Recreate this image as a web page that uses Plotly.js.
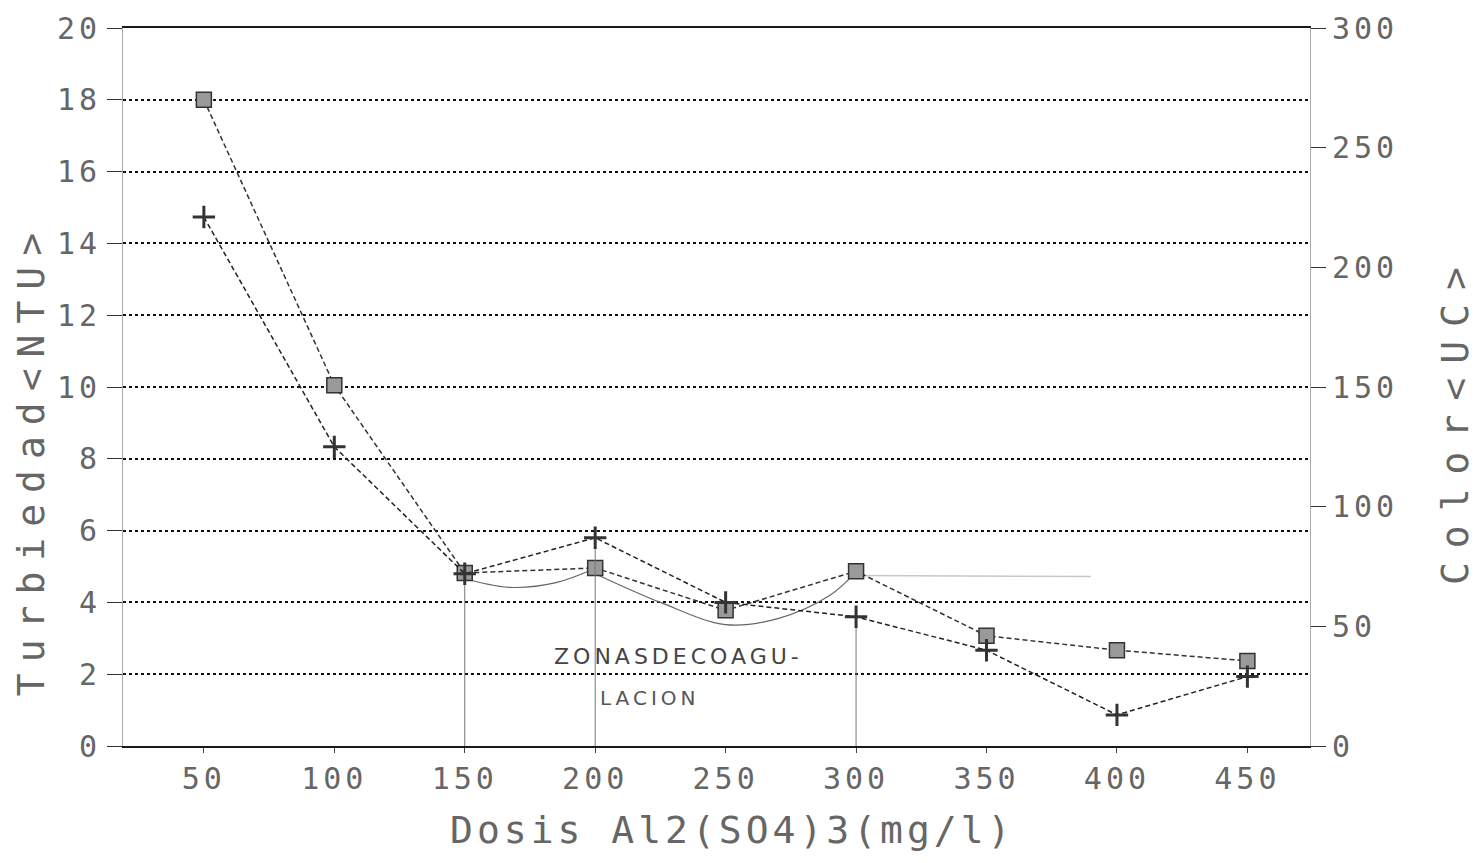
<!DOCTYPE html>
<html>
<head>
<meta charset="utf-8">
<script src="https://cdn.plot.ly/plotly-3.0.1.min.js"></script>
<style>
html,body{margin:0;padding:0;background:#fff;}
#chart{width:1476px;height:863px;}
</style>
</head>
<body>
<div id="chart"></div>
<script>
// ---- data ----
const doses = [50, 100, 150, 200, 250, 300, 350, 400, 450];
const turbiedadNTU = [18.0, 10.05, 4.82, 4.96, 3.78, 4.87, 3.07, 2.67, 2.37];
const colorUC = [221, 125, 72, 87, 60, 54, 40, 13, 29];
const xTickVals = [50, 100, 150, 200, 250, 300, 350, 400, 450];
const yTickVals = [0, 2, 4, 6, 8, 10, 12, 14, 16, 18, 20];
const y2TickVals = [0, 50, 100, 150, 200, 250, 300];
const dropDoses = [150, 200, 300];
// hand-drawn sketch marks on the printout
const sketch1X = [148, 167, 185, 200];
const sketch1Y = [4.7, 4.42, 4.55, 4.95];
const sketch2X = [200, 225, 250, 270, 290, 300];
const sketch2Y = [4.8, 4.0, 3.38, 3.55, 4.2, 4.85];
const faintX = [300, 390];
const faintY = [4.75, 4.72];
const handNote1 = "ZONASDECOAGU-";
const handNote2 = "LACION";

// ---- build drop lines from data ----
const dropX = [], dropY = [];
dropDoses.forEach(d => {
  const i = doses.indexOf(d);
  dropX.push(d, d, null);
  dropY.push(colorUC[i], 0, null);
});

const mono = "DejaVu Sans Mono, Liberation Mono, monospace";
const txtColor = "#666666";

const traces = [
  {x: sketch1X, y: sketch1Y, mode: 'lines', line: {color: '#666', width: 1.2, shape: 'spline'}, hoverinfo: 'skip', showlegend: false},
  {x: sketch2X, y: sketch2Y, mode: 'lines', line: {color: '#666', width: 1.2, shape: 'spline'}, hoverinfo: 'skip', showlegend: false},
  {x: faintX, y: faintY, mode: 'lines', line: {color: '#c8c8c8', width: 1.5}, hoverinfo: 'skip', showlegend: false},
  {x: dropX, y: dropY, yaxis: 'y2', mode: 'lines', line: {color: '#777', width: 1}, hoverinfo: 'skip', showlegend: false},
  {
    x: doses, y: turbiedadNTU, name: 'Turbiedad', mode: 'lines+markers',
    line: {color: '#333', width: 1.5, dash: '5px,3px'},
    marker: {symbol: 'square', size: 15, color: '#9a9a9a', line: {color: '#333', width: 1.5}}
  },
  {
    x: doses, y: colorUC, name: 'Color', yaxis: 'y2', mode: 'lines+markers',
    line: {color: '#222', width: 1.5, dash: '5px,3px'},
    marker: {symbol: 'cross-thin', size: 16, line: {color: '#333', width: 3}}
  }
];

const layout = {
  width: 1476, height: 863,
  margin: {l: 123, r: 166, t: 28, b: 117},
  paper_bgcolor: '#fff', plot_bgcolor: '#fff',
  showlegend: false,
  font: {family: mono, color: txtColor},
  xaxis: {
    range: [19, 474], tickvals: xTickVals, ticks: 'outside', ticklen: 5, tickcolor: '#444',
    tickfont: {family: mono, size: 30, color: txtColor},
    showgrid: false, zeroline: false,
    showline: true, linecolor: '#1a1a1a', linewidth: 2, mirror: true
  },
  yaxis: {
    range: [0, 20], tickvals: yTickVals, ticks: 'outside', ticklen: 15, tickcolor: '#333',
    tickfont: {family: mono, size: 30, color: txtColor},
    showgrid: true, gridcolor: '#111', gridwidth: 2, griddash: 'dot',
    zeroline: false, showline: true, linecolor: '#aaa', linewidth: 1
  },
  yaxis2: {
    range: [0, 300], tickvals: y2TickVals, overlaying: 'y', side: 'right',
    ticks: 'outside', ticklen: 15, tickcolor: '#333',
    tickfont: {family: mono, size: 30, color: txtColor},
    showgrid: false, zeroline: false, showline: true, linecolor: '#aaa', linewidth: 1
  },
  annotations: [
    {text: 'Turbiedad<NTU>', xref: 'paper', yref: 'paper', x: -0.078, y: 0.40, textangle: -90,
     showarrow: false, xanchor: 'center', yanchor: 'middle', font: {family: mono, size: 38, color: txtColor}},
    {text: 'Color<UC>', xref: 'paper', yref: 'paper', x: 1.122, y: 0.455, textangle: -90,
     showarrow: false, xanchor: 'center', yanchor: 'middle', font: {family: mono, size: 38, color: txtColor}},
    {text: 'Dosis Al2(SO4)3(mg/l)', xref: 'paper', yref: 'paper', x: 0.513, y: -0.117,
     showarrow: false, xanchor: 'center', yanchor: 'middle', font: {family: mono, size: 38, color: txtColor}},
    {text: handNote1, xref: 'x', yref: 'y', x: 232, y: 2.5, showarrow: false, xanchor: 'center', yanchor: 'middle',
     font: {family: 'DejaVu Sans', size: 22, color: '#444'}},
    {text: handNote2, xref: 'x', yref: 'y', x: 221, y: 1.35, showarrow: false, xanchor: 'center', yanchor: 'middle',
     font: {family: 'DejaVu Sans', size: 20, color: '#555'}}
  ]
};

Plotly.newPlot('chart', traces, layout, {displayModeBar: false, staticPlot: true}).then(() => {
  document.querySelectorAll('.xtick text, .ytick text, .y2tick text').forEach(t => {
    t.style.letterSpacing = '4px';
  });
  const ann = document.querySelectorAll('.annotation-text-g text');
  const spacing = ['11px', '14px', '4px', '4px', '4px'];
  ann.forEach((t, i) => { if (spacing[i]) t.style.letterSpacing = spacing[i]; });
});
</script>
</body>
</html>
